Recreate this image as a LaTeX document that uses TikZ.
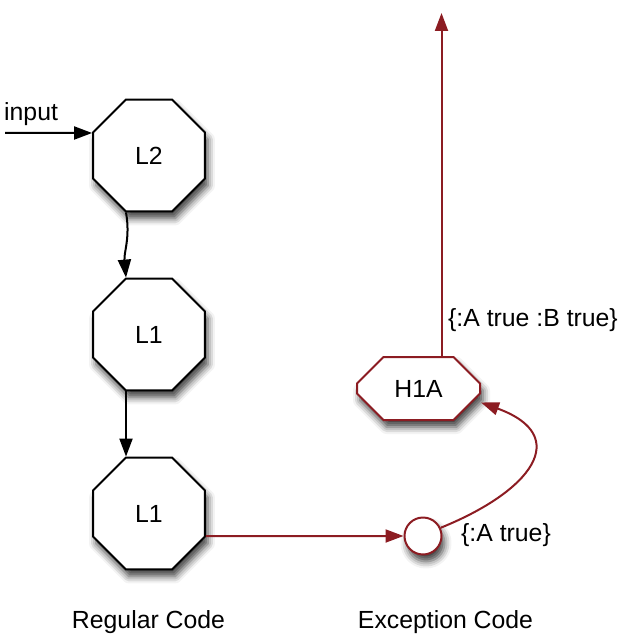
\documentclass[tikz,border=0pt]{standalone}
\usepackage{fontspec}
\setmainfont{Liberation Sans}
\usetikzlibrary{shapes.geometric,shapes.misc,arrows.meta,shadows.blur}
\definecolor{exred}{RGB}{140,28,34}
\begin{document}
\begin{tikzpicture}[x=1pt,y=-1pt,
  every node/.style={font=\fontsize{24.8}{29}\selectfont},
  shade/.style={blur shadow={shadow xshift=3pt,shadow yshift=-7pt,shadow blur radius=7pt,shadow opacity=75}},
  oct/.style={draw, line width=2pt, fill=white, regular polygon, regular polygon sides=8,
    minimum size=121pt, inner sep=0pt, shade},
  hoct/.style={draw=exred, line width=2pt, fill=white, chamfered rectangle,
    chamfered rectangle xsep=19pt, chamfered rectangle ysep=18pt,
    minimum width=123pt, minimum height=63pt, inner sep=0pt, shade},
  dot/.style={draw=exred, line width=2pt, fill=white, circle, minimum size=37pt, inner sep=0pt, shade},
  blk/.style={line width=2pt, -{Triangle[length=18pt,width=13pt]}},
  red/.style={draw=exred, line width=2pt, -{Triangle[length=18pt,width=13pt]}},
  lbl/.style={inner sep=0pt}
]
\useasboundingbox (0,0) rectangle (621,636);

\node[oct] (L2) at (149,155.5) {L2};
\node[oct] (L1a) at (149,334.5) {L1};
\node[oct] (L1b) at (149,513.5) {L1};
\node[hoct] (H1A) at (418.5,388.5) {H1A};
\node[dot] (C) at (423,536) {};

\coordinate (in) at (5,133);
\coordinate (top) at (441.5,13);

\node[lbl, anchor=west] (input) at (4,114) {input};
\node[lbl, anchor=west] (ab) at (448,320) {\{:A true :B true\}};
\node[lbl, anchor=west] (a) at (461,535) {\{:A true\}};
\node[lbl] (reg) at (148.5,622) {Regular Code};
\node[lbl] (exc) at (445.5,622) {Exception Code};

\draw[blk] (in) -- ([yshift=22.5pt]L2.west);
\draw[blk] ([xshift=-23pt]L2.south) to[out=-80,in=95] ([xshift=-23pt]L1a.north);
\draw[blk] ([xshift=-23pt]L1a.south) -- ([xshift=-23pt]L1b.north);
\draw[red] ([yshift=-22.5pt]L1b.east) -- (C.west);
\draw[red] (C.25) to[out=22,in=-20,looseness=1.9] ([yshift=-14pt]H1A.east);
\draw[red] ([xshift=23pt]H1A.north) -- (top);
\end{tikzpicture}
\end{document}
